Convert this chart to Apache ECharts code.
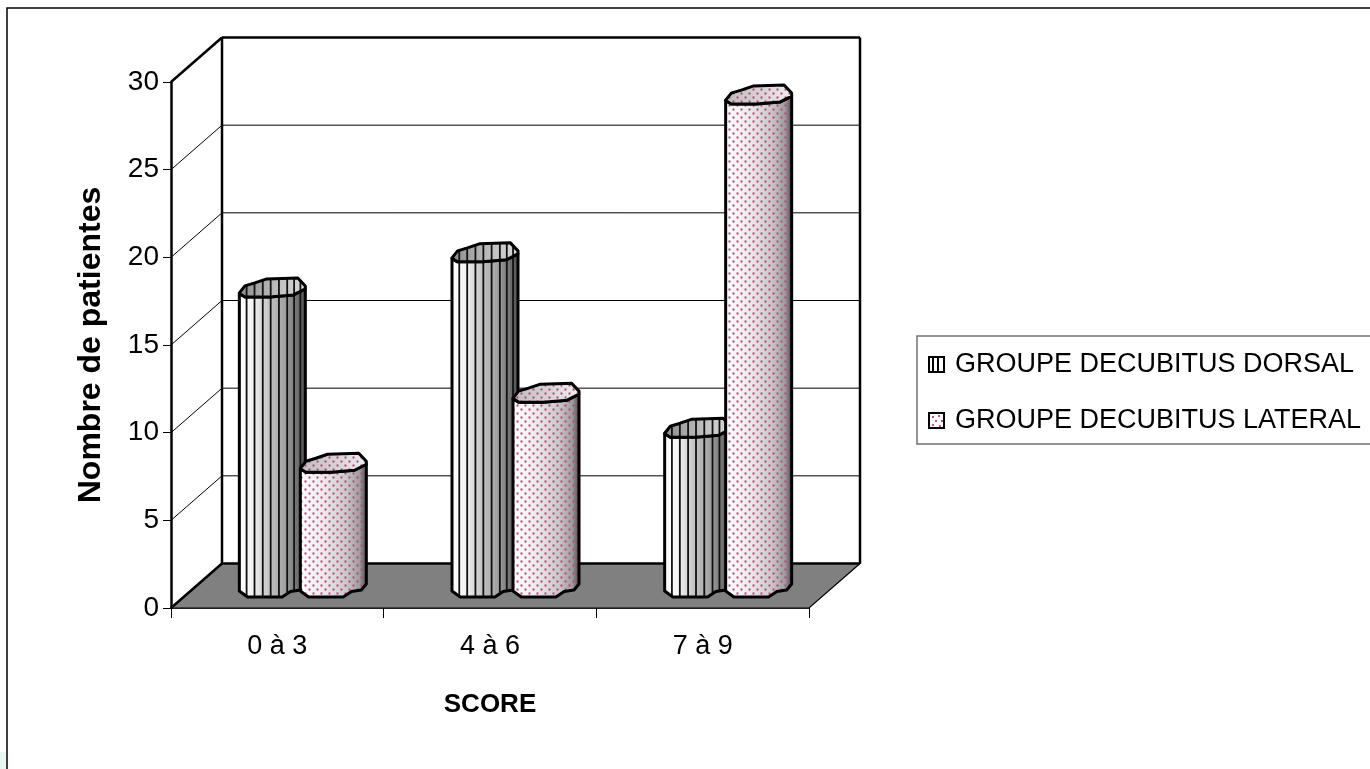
<!DOCTYPE html>
<html><head><meta charset="utf-8">
<style>html,body{margin:0;padding:0;background:#fff}#c{width:1370px;height:769px}</style>
<script src="https://cdn.jsdelivr.net/npm/echarts@6/dist/echarts.min.js"></script></head>
<body><div id="c"></div>
<script>
const categories = ['0 à 3', '4 à 6', '7 à 9'];
const dorsal = [17, 19, 9];
const lateral = [7, 11, 28];
const yTicks = [0, 5, 10, 15, 20, 25, 30];
const nameDorsal = 'GROUPE DECUBITUS DORSAL';
const nameLateral = 'GROUPE DECUBITUS LATERAL';

const DX = 51, DY = 44.5, MIDX = 26, MIDY = 22, HW = 33, RY = 10;
const TOPBACK = [[-1,.5],[-.83,-.2],[-.53,-.5],[-.17,-.9],[.77,-1],[1,-.2]];
const TOPFRONT = [[-1,.55],[-.83,.9],[-.08,.9],[.64,.7],[1,.1]];
const BOTTOM = [[-1,.5],[-.75,1.1],[.3,1.1],[.55,.55],[.85,.4],[1,-.2]];
const STRIPES = [-.78,-.54,-.29,-.05,.2,.45,.66,.85];

function edgeV(poly,u){
  for(let i=1;i<poly.length;i++){
    if(u<=poly[i][0]){const a=poly[i-1],b=poly[i];return a[1]+(b[1]-a[1])*(u-a[0])/(b[0]-a[0]);}
  }
  return poly[poly.length-1][1];
}
const dotCanvas=document.createElement('canvas');dotCanvas.width=8;dotCanvas.height=8;
(function(){const g=dotCanvas.getContext('2d');
  [[1.5,1.5],[5.5,5.5]].forEach(p=>{
    g.fillStyle='rgba(190,100,150,.28)';g.beginPath();g.arc(p[0],p[1],1.7,0,7);g.fill();
    g.fillStyle='#b0407e';g.beginPath();g.arc(p[0],p[1],.9,0,7);g.fill();});
})();
function icon(kind){
  const c=document.createElement('canvas');c.width=17;c.height=17;const g=c.getContext('2d');
  g.fillStyle='#fff';g.fillRect(0,0,17,17);
  if(kind==='dots'){g.fillStyle='#f0dce6';g.fillRect(1,1,15,15);g.fillStyle='#fff';g.fillRect(2,2,13,13);
    g.fillStyle='#c8508c';[[4,4],[10,3],[7,8],[13,8],[4,12],[11,13]].forEach(p=>g.fillRect(p[0],p[1],2,2));}
  g.strokeStyle='#000';g.lineWidth=2;g.strokeRect(1,1,15,15);
  if(kind==='lines'){g.lineWidth=2;[5,10].forEach(x=>{g.beginPath();g.moveTo(x,1);g.lineTo(x,16);g.stroke();});}
  return 'image://'+c.toDataURL();
}
function grad(stops){return new echarts.graphic.LinearGradient(0,0,1,0,stops.map((c,i)=>({offset:c[0],color:c[1]})));}

function wallItem(params,api){
  const v=api.value(1);
  const half=api.size([1,0])[0]/2;
  const p=api.coord([0,v]);
  const x0=p[0]-half, y=p[1];
  const x1=api.coord([categories.length-1,v])[0]+half;
  const kids=[];
  const line=(a,b,c,d,w)=>kids.push({type:'line',shape:{x1:a,y1:b,x2:c,y2:d},style:{stroke:'#000',lineWidth:w}});
  if(v===yTicks[0]){
    kids.push({type:'polygon',shape:{points:[[x0,y],[x0+DX,y-DY],[x1+DX,y-DY],[x1,y]]},style:{fill:'#808080',stroke:'#000',lineWidth:1.2}});
    line(x0,y,x0+DX,y-DY,2.5);
    line(x0+DX,y-DY,x1+DX,y-DY,2.5);
    const t=api.coord([0,yTicks[yTicks.length-1]])[1]-DY;
    line(x0+DX,t,x0+DX,y-DY,2.5);
    line(x1+DX,t,x1+DX,y-DY,2.5);
  } else {
    const top=v===yTicks[yTicks.length-1];
    line(x0,y,x0+DX,y-DY,top?2.5:1);
    line(x0+DX,y-DY,x1+DX,y-DY,top?2.5:1);
  }
  return {type:'group',children:kids};
}
function cyl(kind,off){
  return function(params,api){
    const cat=api.value(0), v=api.value(1);
    const base=api.coord([cat,0]);
    const cx=base[0]+off, by=base[1]-MIDY, ty=api.coord([cat,v])[1]-MIDY;
    const T=(pts)=>pts.map(p=>[cx+p[0]*HW,ty+p[1]*RY]);
    const B=(pts)=>pts.map(p=>[cx+p[0]*HW,by+p[1]*RY]);
    const body=T([TOPFRONT[0]]).concat(B(BOTTOM),T(TOPFRONT.slice().reverse()));
    const cap=T(TOPBACK).concat(T(TOPFRONT.slice().reverse()));
    const kids=[];
    const bodyFill=kind==='lines'
      ?grad([[0,'#ffffff'],[.2,'#f4f4f4'],[.45,'#c4c4c4'],[.7,'#a0a0a0'],[1,'#505050']])
      :grad([[0,'#ffffff'],[.35,'#ececec'],[.7,'#c8c8c8'],[.9,'#9c9c9c'],[1,'#4c4c4c']]);
    const capFill=kind==='lines'?grad([[0,'#8c8c8c'],[.6,'#c0c0c0'],[1,'#d8d8d8']]):grad([[0,'#bdbdbd'],[.6,'#d8d8d8'],[1,'#eeeeee']]);
    kids.push({type:'polygon',shape:{points:body},style:{fill:bodyFill,stroke:'none'}});
    if(kind==='dots') kids.push({type:'polygon',shape:{points:body},style:{fill:{image:dotCanvas,repeat:'repeat'},stroke:'none'}});
    if(kind==='lines') STRIPES.forEach(u=>{
      const x=cx+u*HW;
      kids.push({type:'line',shape:{x1:x,y1:ty+edgeV(TOPFRONT,u)*RY,x2:x,y2:by+edgeV(BOTTOM,u)*RY},style:{stroke:'#111',lineWidth:1.8}});
    });
    kids.push({type:'polygon',shape:{points:body},style:{fill:'none',stroke:'#000',lineWidth:3,lineJoin:'round'}});
    kids.push({type:'polygon',shape:{points:cap},style:{fill:capFill,stroke:'none'}});
    if(kind==='dots') kids.push({type:'polygon',shape:{points:cap},style:{fill:{image:dotCanvas,repeat:'repeat'},stroke:'none'}});
    if(kind==='lines') STRIPES.forEach(u=>{
      const x=cx+u*HW;
      kids.push({type:'line',shape:{x1:x,y1:ty+edgeV(TOPBACK,u)*RY,x2:x,y2:ty+edgeV(TOPFRONT,u)*RY},style:{stroke:'#111',lineWidth:1.8}});
    });
    kids.push({type:'polygon',shape:{points:cap},style:{fill:'none',stroke:'#000',lineWidth:3,lineJoin:'round'}});
    return {type:'group',children:kids};
  };
}
const chart=echarts.init(document.getElementById('c'),null,{renderer:'canvas'});
const FONT='"Liberation Sans"';
chart.setOption({
  animation:false,
  backgroundColor:'#fff',
  grid:{left:171,top:82,width:638,height:526},
  xAxis:{type:'category',data:categories,boundaryGap:true,
    axisLine:{lineStyle:{color:'#000',width:1.5}},
    axisTick:{show:true,alignWithLabel:false,length:10,lineStyle:{color:'#000',width:1}},
    axisLabel:{color:'#000',fontFamily:FONT,fontSize:27,margin:25},
    splitLine:{show:false},
    name:'SCORE',nameLocation:'middle',nameGap:84,
    nameTextStyle:{color:'#000',fontFamily:FONT,fontWeight:'bold',fontSize:26}},
  yAxis:{type:'value',min:0,max:30,interval:5,
    axisLine:{show:true,lineStyle:{color:'#000',width:2.5}},
    axisTick:{show:true,length:8,lineStyle:{color:'#000',width:1}},
    axisLabel:{color:'#000',fontFamily:FONT,fontSize:28,margin:12},
    splitLine:{show:false},
    name:'Nombre de patientes',nameLocation:'middle',nameGap:64,
    nameTextStyle:{color:'#000',fontFamily:FONT,fontWeight:'bold',fontSize:32}},
  legend:{show:true,left:917,top:336,orient:'vertical',
    data:[{name:nameDorsal,icon:icon('lines')},{name:nameLateral,icon:icon('dots')}],
    itemWidth:17,itemHeight:17,itemGap:29,padding:[15,60,10,11],
    selectedMode:false,borderColor:'#707070',borderWidth:1.5,backgroundColor:'#fff',
    textStyle:{color:'#000',fontFamily:FONT,fontSize:27,padding:[0,0,0,5]}},
  graphic:[
    {type:'rect',silent:true,z:-1,shape:{x:0,y:752,width:6,height:17},style:{fill:'#e9f7f3'}},
    {type:'rect',silent:true,z:-1,shape:{x:7,y:8,width:1500,height:900},style:{fill:'none',stroke:'#000',lineWidth:1.5}}
  ],
  series:[
    {type:'custom',name:'walls',coordinateSystem:'cartesian2d',z:1,clip:false,renderItem:wallItem,silent:true,
     data:yTicks.map(v=>[0,v]),encode:{x:0,y:1}},
    {type:'custom',name:nameDorsal,coordinateSystem:'cartesian2d',z:3,clip:false,renderItem:cyl('lines',MIDX-31),silent:true,
     data:dorsal.map((v,i)=>[i,v]),encode:{x:0,y:1}},
    {type:'custom',name:nameLateral,coordinateSystem:'cartesian2d',z:4,clip:false,renderItem:cyl('dots',MIDX+30),silent:true,
     data:lateral.map((v,i)=>[i,v]),encode:{x:0,y:1}}
  ]
});
</script></body></html>
